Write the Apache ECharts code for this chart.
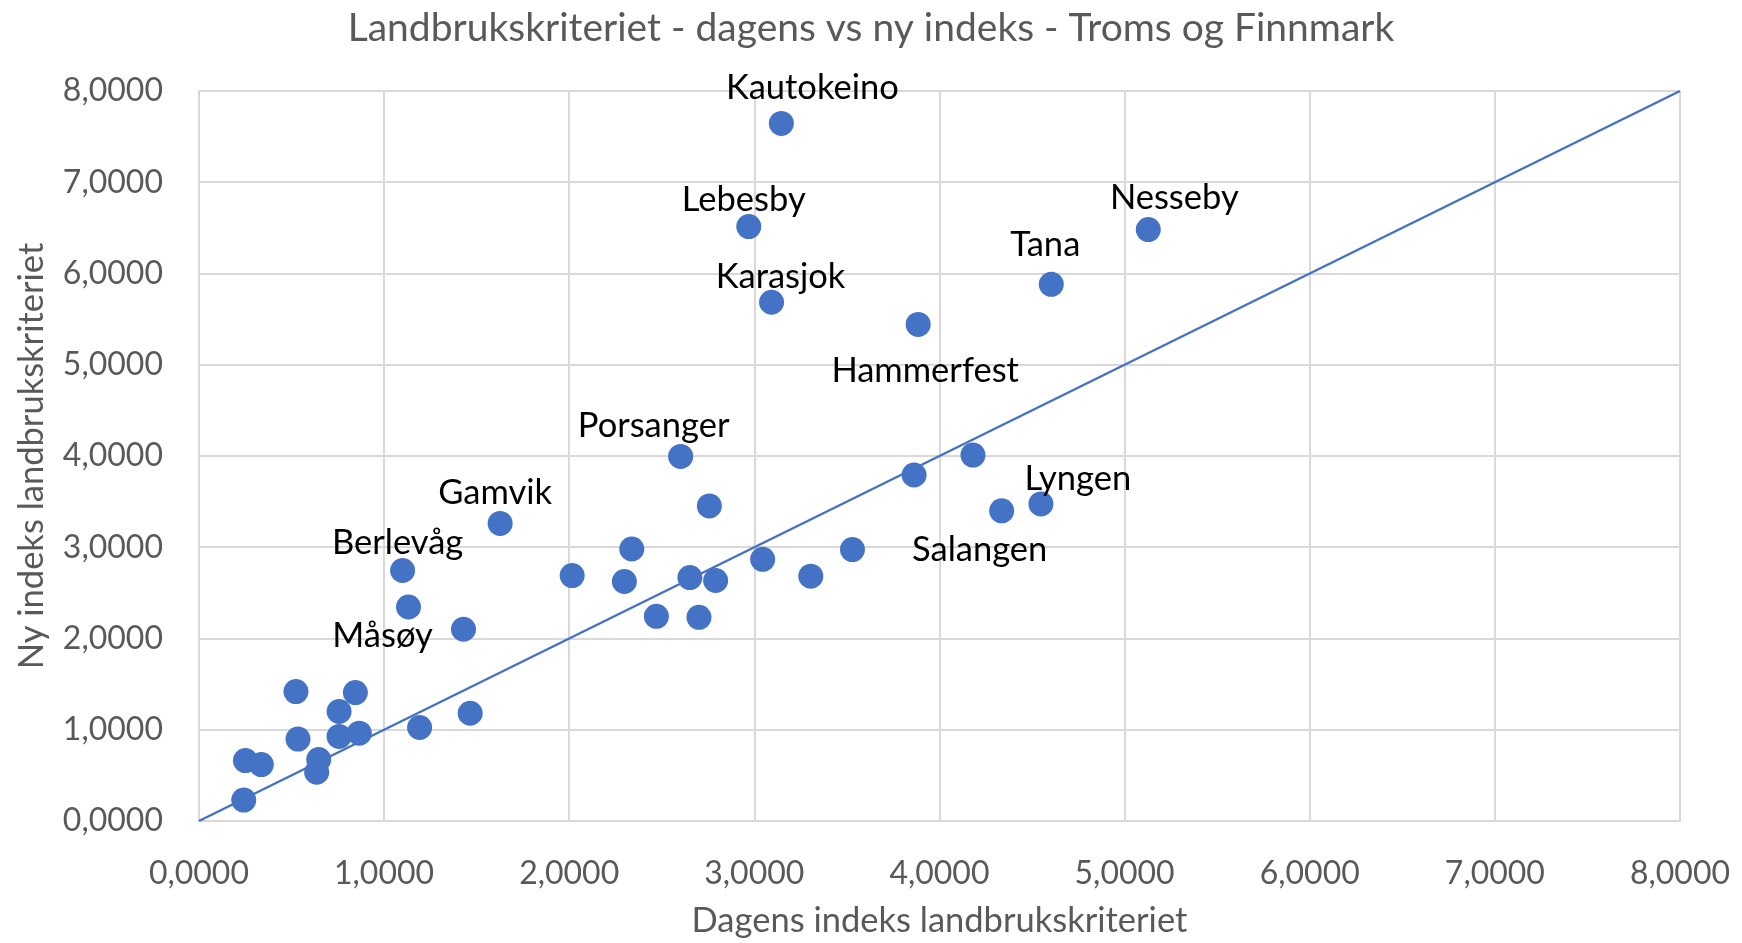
<!DOCTYPE html>
<html>
<head>
<meta charset="utf-8">
<title>Landbrukskriteriet</title>
<script src="https://cdn.jsdelivr.net/npm/echarts@6/dist/echarts.min.js"></script>
<style>
  html, body { margin: 0; padding: 0; width: 100%; height: 100%; background: #ffffff; overflow: hidden; }
  #chart { width: 100vw; height: 100vh; }
</style>
</head>
<body>
<div id="chart"></div>
<script>
// Municipalities in Troms og Finnmark: current index (x) vs new index (y)
const kommuner = [
  'Kautokeino', 'Lebesby', 'Karasjok', 'Nesseby', 'Tana', 'Hammerfest',
  'Porsanger', 'Gamvik', 'Berlevåg', 'Måsøy', 'Lyngen', 'Salangen',
  '', '', '', '', '', '', '', '', '', '', '', '', '', '', '', '', '', '', '', '', '', '', '', '', '', '', ''
];
const dagensIndeks = [
  3.146, 2.970, 3.093, 5.128, 4.604, 3.885,
  2.602, 1.627, 1.100, 1.429, 4.548, 4.336,
  0.251, 0.337, 0.242, 0.524, 0.535, 0.647, 0.636, 0.757, 0.757, 0.845, 0.866,
  1.132, 1.192, 1.465,
  2.016, 2.338, 2.298, 2.471, 2.757, 2.652, 2.791, 2.701,
  3.045, 3.305, 3.530, 3.863, 4.181
];
const nyIndeks = [
  7.645, 6.514, 5.685, 6.481, 5.881, 5.442,
  3.995, 3.261, 2.745, 2.101, 3.475, 3.399,
  0.662, 0.618, 0.229, 1.418, 0.898, 0.673, 0.534, 1.200, 0.927, 1.407, 0.963,
  2.345, 1.025, 1.181,
  2.690, 2.981, 2.625, 2.243, 3.453, 2.668, 2.636, 2.232,
  2.868, 2.683, 2.974, 3.792, 4.010
];
// Reference line y = x
const likhetslinje = [[0, 0], [8, 8]];
const akseTikk = ['0,0000', '1,0000', '2,0000', '3,0000', '4,0000', '5,0000', '6,0000', '7,0000', '8,0000'];

const tittel = 'Landbrukskriteriet - dagens vs ny indeks - Troms og Finnmark';
const xTittel = 'Dagens indeks landbrukskriteriet';
const yTittel = 'Ny indeks landbrukskriteriet';

// Where each name label's centre sits relative to its marker centre, in pixels
const etikettForskyvning = {
  'Kautokeino': [31, -36],
  'Lebesby': [-5, -27],
  'Karasjok': [9, -25],
  'Nesseby': [26, -32],
  'Tana': [-6, -39],
  'Hammerfest': [7, 46],
  'Porsanger': [-27, -31],
  'Gamvik': [-5, -31],
  'Berlevåg': [-5, -28],
  'Måsøy': [-81, 7],
  'Lyngen': [37, -25],
  'Salangen': [-22, 39]
};

const FONT = 'Lato, "Open Sans", sans-serif';
const BLA = '#4472C4';
const GRA_TEKST = '#595959';
const RUTENETT = '#d9d9d9';
const SYMBOL = 25;

const punkter = dagensIndeks.map((x, i) => {
  const navn = kommuner[i];
  const p = { value: [x, nyIndeks[i]], name: navn };
  if (navn) {
    const [dx, dy] = etikettForskyvning[navn] || [0, -30];
    p.label = {
      show: true,
      // position is measured from the top-left of the marker's box
      position: [SYMBOL / 2 + dx, SYMBOL / 2 + dy],
      align: 'center',
      verticalAlign: 'middle',
      formatter: navn
    };
  }
  return p;
});

const tikkFormat = v => akseTikk[Math.round(v)] ?? String(v);

const chart = echarts.init(document.getElementById('chart'), null, { renderer: 'canvas' });
chart.setOption({
  backgroundColor: '#ffffff',
  animation: false,
  textStyle: { fontFamily: FONT },
  title: {
    text: tittel,
    left: 'center',
    top: '0.45%',
    textStyle: { fontFamily: FONT, fontSize: 39, fontWeight: 'normal', color: GRA_TEKST }
  },
  grid: { left: '11.42%', width: '85.02%', top: '9.65%', height: '78.0%', containLabel: false },
  xAxis: {
    type: 'value',
    min: 0, max: 8, interval: 1,
    name: xTittel,
    nameLocation: 'middle',
    nameGap: 82,
    nameTextStyle: { fontFamily: FONT, fontSize: 34.5, color: GRA_TEKST },
    axisLine: { show: true, lineStyle: { color: RUTENETT, width: 2 } },
    axisTick: { show: false },
    axisLabel: { formatter: tikkFormat, margin: 37, fontFamily: FONT, fontSize: 32, color: GRA_TEKST },
    splitLine: { show: true, lineStyle: { color: RUTENETT, width: 2 } }
  },
  yAxis: {
    type: 'value',
    min: 0, max: 8, interval: 1,
    name: yTittel,
    nameLocation: 'middle',
    nameGap: 150,
    nameTextStyle: { fontFamily: FONT, fontSize: 34.5, color: GRA_TEKST },
    axisLine: { show: true, lineStyle: { color: RUTENETT, width: 2 } },
    axisTick: { show: false },
    axisLabel: { formatter: tikkFormat, margin: 36, fontFamily: FONT, fontSize: 32, color: GRA_TEKST },
    splitLine: { show: true, lineStyle: { color: RUTENETT, width: 2 } }
  },
  series: [
    {
      name: 'y = x',
      type: 'line',
      data: likhetslinje,
      symbol: 'none',
      silent: true,
      lineStyle: { color: BLA, width: 2.5 },
      z: 2
    },
    {
      name: 'Kommuner',
      type: 'scatter',
      data: punkter,
      symbol: 'circle',
      symbolSize: SYMBOL,
      itemStyle: { color: BLA, opacity: 1 },
      label: {
        show: false,
        fontFamily: FONT,
        fontSize: 34.5,
        color: '#000000'
      },
      labelLayout: { hideOverlap: false },
      z: 3
    }
  ]
});
window.addEventListener('resize', () => chart.resize());
</script>
</body>
</html>
